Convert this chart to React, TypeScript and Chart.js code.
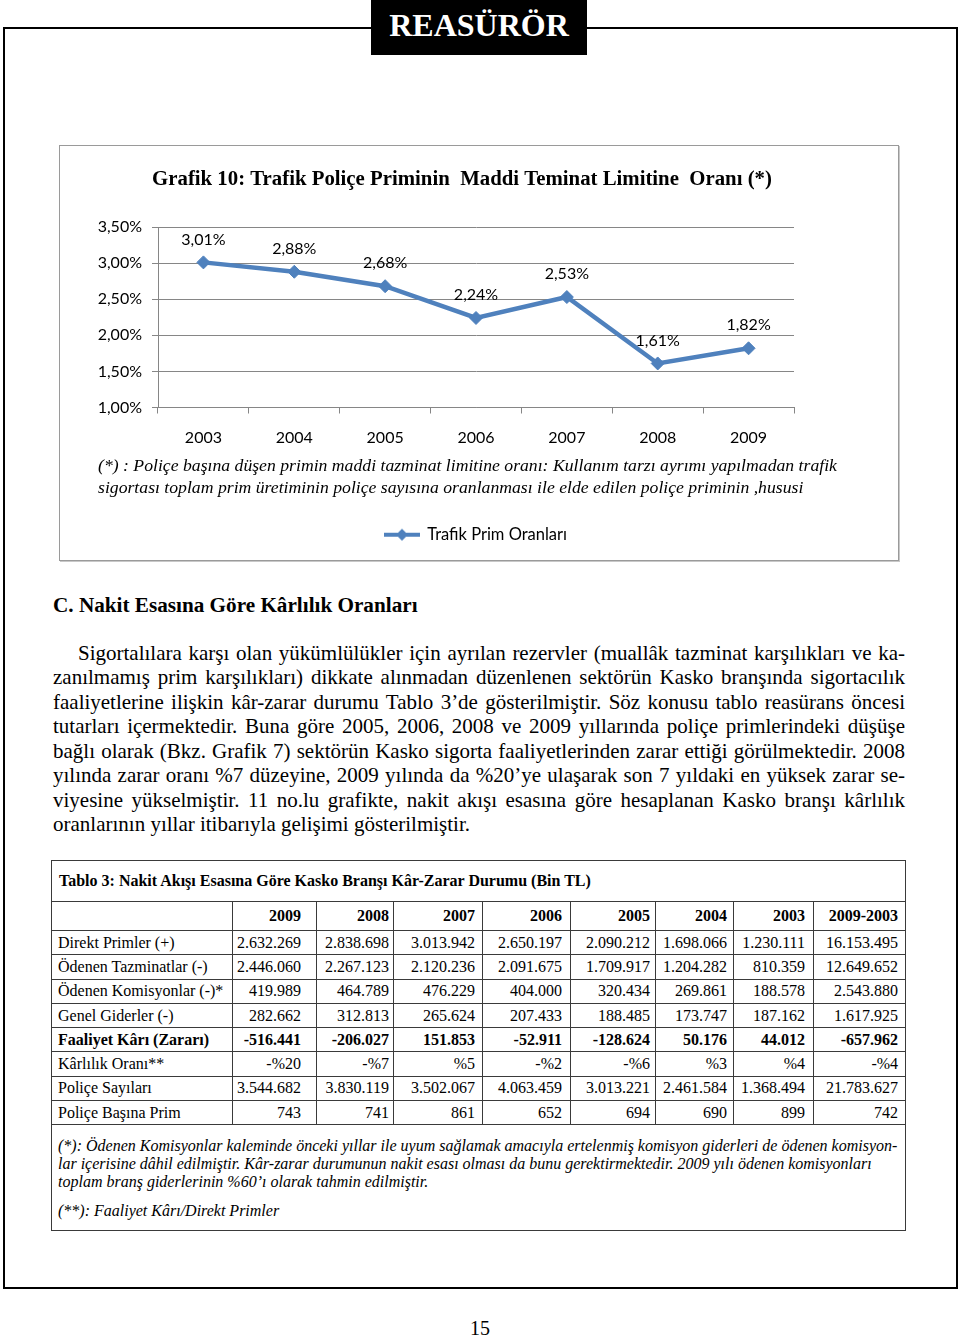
import React, { useEffect, useRef } from "react";
import { Chart, registerables } from "chart.js";

Chart.register(...registerables);

// ---------- Chart data ----------
const years = ["2003", "2004", "2005", "2006", "2007", "2008", "2009"];
const trafikPrimOranlari = [3.01, 2.88, 2.68, 2.24, 2.53, 1.61, 1.82];
const yMin = 1.0;
const yMax = 3.5;
const yStep = 0.5;
const seriesName = "Trafik Prim Oranları";
const chartTitle = "Grafik 10: Trafik Poliçe Priminin  Maddi Teminat Limitine  Oranı (*)";
const chartFootnote = [
  "(*) : Poliçe başına düşen primin maddi tazminat limitine oranı: Kullanım tarzı ayrımı yapılmadan trafik",
  "sigortası toplam prim üretiminin poliçe sayısına oranlanması ile elde edilen poliçe priminin ,hususi",
];

// ---------- Page text ----------
const headerText = "REASÜRÖR";
const sectionHeading = "C. Nakit Esasına Göre Kârlılık Oranları";
const paragraphLines = [
  "Sigortalılara karşı olan yükümlülükler için ayrılan rezervler (muallâk tazminat karşılıkları ve ka-",
  "zanılmamış prim karşılıkları) dikkate alınmadan düzenlenen sektörün Kasko branşında sigortacılık",
  "faaliyetlerine ilişkin kâr-zarar durumu Tablo 3’de gösterilmiştir.  Söz konusu tablo reasürans öncesi",
  "tutarları içermektedir. Buna göre 2005, 2006, 2008 ve 2009 yıllarında poliçe primlerindeki düşüşe",
  "bağlı olarak (Bkz. Grafik 7) sektörün Kasko sigorta faaliyetlerinden zarar ettiği görülmektedir. 2008",
  "yılında zarar oranı %7 düzeyine, 2009 yılında da %20’ye ulaşarak son 7 yıldaki en yüksek zarar se-",
  "viyesine yükselmiştir. 11 no.lu grafikte, nakit akışı esasına göre hesaplanan Kasko branşı kârlılık",
  "oranlarının yıllar itibarıyla gelişimi gösterilmiştir.",
];
const pageNumber = "15";

// ---------- Table data ----------
const tableTitle = "Tablo 3: Nakit Akışı Esasına Göre Kasko Branşı Kâr-Zarar Durumu (Bin TL)";
const tableYears = ["2009", "2008", "2007", "2006", "2005", "2004", "2003", "2009-2003"];
const direktPrimler = ["2.632.269", "2.838.698", "3.013.942", "2.650.197", "2.090.212", "1.698.066", "1.230.111", "16.153.495"];
const odenenTazminatlar = ["2.446.060", "2.267.123", "2.120.236", "2.091.675", "1.709.917", "1.204.282", "810.359", "12.649.652"];
const odenenKomisyonlar = ["419.989", "464.789", "476.229", "404.000", "320.434", "269.861", "188.578", "2.543.880"];
const genelGiderler = ["282.662", "312.813", "265.624", "207.433", "188.485", "173.747", "187.162", "1.617.925"];
const faaliyetKari = ["-516.441", "-206.027", "151.853", "-52.911", "-128.624", "50.176", "44.012", "-657.962"];
const karlilikOrani = ["-%20", "-%7", "%5", "-%2", "-%6", "%3", "%4", "-%4"];
const policeSayilari = ["3.544.682", "3.830.119", "3.502.067", "4.063.459", "3.013.221", "2.461.584", "1.368.494", "21.783.627"];
const policeBasinaPrim = ["743", "741", "861", "652", "694", "690", "899", "742"];
const tableRows: { label: string; values: string[]; bold?: boolean }[] = [
  { label: "Direkt Primler (+)", values: direktPrimler },
  { label: "Ödenen Tazminatlar (-)", values: odenenTazminatlar },
  { label: "Ödenen Komisyonlar (-)*", values: odenenKomisyonlar },
  { label: "Genel Giderler (-)", values: genelGiderler },
  { label: "Faaliyet Kârı (Zararı)", values: faaliyetKari, bold: true },
  { label: "Kârlılık Oranı**", values: karlilikOrani },
  { label: "Poliçe Sayıları", values: policeSayilari },
  { label: "Poliçe Başına Prim", values: policeBasinaPrim },
];
const tableNotes = [
  "(*):  Ödenen Komisyonlar kaleminde önceki yıllar ile uyum sağlamak amacıyla ertelenmiş komisyon giderleri de ödenen komisyon-",
  "lar içerisine dâhil edilmiştir. Kâr-zarar durumunun nakit esası olması da bunu gerektirmektedir. 2009 yılı ödenen komisyonları",
  "toplam branş giderlerinin %60’ı olarak tahmin edilmiştir.",
];
const tableNote2 = "(**):  Faaliyet Kârı/Direkt Primler";

// ---------- Styles ----------
const SERIF = '"Liberation Serif", "Times New Roman", serif';
const SANS = "Lato";
const LINE_BLUE = "#4F81BD";
const GRID_GRAY = "#868686";
const colWidths = [181, 84, 77, 89, 88, 85, 78, 80, 92];
const colPadRight = [0, 15, 4, 7, 8, 5, 6, 8, 7];

const fmtPct = (v: number) => v.toFixed(2).replace(".", ",") + "%";

function makeLegendMarker(): HTMLCanvasElement {
  const c = document.createElement("canvas");
  c.width = 36;
  c.height = 14;
  const g = c.getContext("2d")!;
  g.strokeStyle = LINE_BLUE;
  g.lineWidth = 4;
  g.beginPath();
  g.moveTo(0, 7);
  g.lineTo(36, 7);
  g.stroke();
  g.fillStyle = LINE_BLUE;
  g.beginPath();
  g.moveTo(18, 1);
  g.lineTo(24, 7);
  g.lineTo(18, 13);
  g.lineTo(12, 7);
  g.closePath();
  g.fill();
  return c;
}

const annotationPlugin = {
  id: "pageAnnotations",
  afterDatasetsDraw(chart: any) {
    const { ctx } = chart;
    const meta = chart.getDatasetMeta(0);
    const data = chart.data.datasets[0].data as number[];
    ctx.save();
    ctx.font = `16px ${SANS}`;
    ctx.fillStyle = "#000";
    ctx.textAlign = "center";
    ctx.textBaseline = "middle";
    meta.data.forEach((pt: any, i: number) => {
      ctx.fillText(fmtPct(data[i]), pt.x, pt.y - 23);
    });
    ctx.restore();
  },
  afterDraw(chart: any) {
    const { ctx, chartArea } = chart;
    ctx.save();
    // title
    ctx.font = `bold 20.8px ${SERIF}`;
    ctx.fillStyle = "#000";
    ctx.textAlign = "center";
    ctx.textBaseline = "middle";
    ctx.fillText(chartTitle, chart.width / 2 - 17, 34);
    // footnote
    ctx.font = `italic 17.7px ${SERIF}`;
    ctx.textAlign = "left";
    chartFootnote.forEach((line, i) => {
      ctx.fillText(line, 38, chartArea.bottom + 59 + i * 22);
    });
    ctx.restore();
  },
};

function TrafikChart() {
  const ref = useRef<HTMLCanvasElement | null>(null);
  useEffect(() => {
    let chart: Chart | null = null;
    let cancelled = false;
    const build = () => {
      if (cancelled || !ref.current) return;
      const font = { family: SANS, size: 16 };
      const marker = makeLegendMarker();
      chart = new Chart(ref.current, {
        type: "line",
        data: {
          labels: years,
          datasets: [
            {
              label: seriesName,
              data: trafikPrimOranlari,
              borderColor: LINE_BLUE,
              backgroundColor: LINE_BLUE,
              borderWidth: 4.5,
              pointStyle: "rectRot",
              pointRadius: 6.5,
              pointBackgroundColor: LINE_BLUE,
              pointBorderColor: LINE_BLUE,
              pointBorderWidth: 1,
              tension: 0,
            },
          ],
        },
        options: {
          animation: false,
          responsive: true,
          maintainAspectRatio: false,
          layout: { padding: { top: 81, left: 37, right: 104, bottom: 6 } },
          scales: {
            x: {
              offset: true,
              grid: { offset: true, drawOnChartArea: false, tickLength: 6, color: GRID_GRAY },
              border: { color: GRID_GRAY },
              ticks: { color: "#000", font, padding: 15, maxRotation: 0 },
              afterFit: (s: any) => {
                s.height = 109;
              },
            },
            y: {
              min: yMin,
              max: yMax,
              ticks: { stepSize: yStep, callback: (v: any) => fmtPct(Number(v)), color: "#000", font, padding: 10 },
              grid: { color: GRID_GRAY, tickLength: 6 },
              border: { color: GRID_GRAY },
              afterFit: (s: any) => {
                s.width = 61;
              },
            },
          },
          plugins: {
            tooltip: { enabled: false },
            title: { display: false },
            legend: {
              position: "bottom",
              fullSize: false,
              labels: {
                usePointStyle: true,
                pointStyleWidth: 34,
                color: "#000",
                font: { family: SANS, size: 16.5 },
                padding: 10,
                generateLabels: () => [
                  {
                    text: seriesName,
                    pointStyle: marker as any,
                    fillStyle: LINE_BLUE,
                    strokeStyle: LINE_BLUE,
                    fontColor: "#000",
                    lineWidth: 0,
                    hidden: false,
                    datasetIndex: 0,
                  } as any,
                ],
              },
            },
          },
        } as any,
        plugins: [annotationPlugin],
      });
    };
    const fontsApi = (document as any).fonts;
    if (fontsApi && fontsApi.load) {
      Promise.all([
        fontsApi.load(`16px ${SANS}`),
        fontsApi.load(`bold 20px "Liberation Serif"`),
        fontsApi.load(`italic 16px "Liberation Serif"`),
      ])
        .catch(() => null)
        .then(build);
    } else {
      build();
    }
    return () => {
      cancelled = true;
      if (chart) chart.destroy();
    };
  }, []);
  return (
    <div style={{ position: "absolute", left: 60, top: 146, width: 838, height: 413 }}>
      <canvas ref={ref} />
    </div>
  );
}

export default function App() {
  const cellBorder = "1px solid #3a3a3a";
  return (
    <div
      style={{
        position: "absolute",
        left: 0,
        top: 0,
        width: 960,
        height: 1337,
        background: "#fff",
        fontFamily: SERIF,
        color: "#000",
        overflow: "hidden",
      }}
    >
      {/* outer frame */}
      <div
        style={{
          position: "absolute",
          left: 3,
          top: 27,
          width: 955,
          height: 1262,
          border: "2px solid #000",
          boxSizing: "border-box",
        }}
      />
      {/* header tab */}
      <div
        style={{
          position: "absolute",
          left: 371,
          top: 0,
          width: 216,
          height: 55,
          background: "#000",
          color: "#fff",
          fontWeight: "bold",
          fontSize: 32,
          lineHeight: "50px",
          textAlign: "center",
        }}
      >
        {headerText}
      </div>

      {/* chart box */}
      <div
        style={{
          position: "absolute",
          left: 59,
          top: 145,
          width: 840,
          height: 416,
          border: "1px solid #9a9a9a",
          boxShadow: "1px 1px 0 #c8c8c8",
          boxSizing: "border-box",
        }}
      />
      <TrafikChart />

      {/* section heading */}
      <div style={{ position: "absolute", left: 53, top: 593, fontSize: 21.2, fontWeight: "bold", lineHeight: "24px", whiteSpace: "nowrap" }}>
        {sectionHeading}
      </div>

      {/* paragraph */}
      <div style={{ position: "absolute", left: 53, top: 641, width: 852, fontSize: 21, lineHeight: "24.43px" }}>
        {paragraphLines.map((line, i) => {
          const last = i === paragraphLines.length - 1;
          return (
            <div
              key={i}
              style={{
                textAlign: last ? "left" : "justify",
                textAlignLast: last ? "left" : "justify",
                paddingLeft: i === 0 ? 25 : 0,
                whiteSpace: "normal",
              }}
            >
              {line}
            </div>
          );
        })}
      </div>

      {/* table */}
      <table
        style={{
          position: "absolute",
          left: 51,
          top: 860,
          width: 855,
          borderCollapse: "collapse",
          tableLayout: "fixed",
          fontSize: 16,
          border: cellBorder,
        }}
      >
        <colgroup>
          {colWidths.map((w, i) => (
            <col key={i} style={{ width: w }} />
          ))}
        </colgroup>
        <tbody>
          <tr style={{ height: 41 }}>
            <td
              colSpan={9}
              style={{ border: cellBorder, padding: "0 0 0 7px", fontWeight: "bold", fontSize: 16, verticalAlign: "middle" }}
            >
              {tableTitle}
            </td>
          </tr>
          <tr style={{ height: 29 }}>
            <td style={{ border: cellBorder, padding: 0 }} />
            {tableYears.map((y, i) => (
              <td
                key={y}
                style={{
                  border: cellBorder,
                  padding: `0 ${colPadRight[i + 1]}px 0 0`,
                  textAlign: "right",
                  fontWeight: "bold",
                  whiteSpace: "nowrap",
                }}
              >
                {y}
              </td>
            ))}
          </tr>
          {tableRows.map((row) => (
            <tr key={row.label} style={{ height: 24.3 }}>
              <td
                style={{
                  border: cellBorder,
                  padding: "0 0 0 6px",
                  fontWeight: row.bold ? "bold" : "normal",
                  whiteSpace: "nowrap",
                }}
              >
                {row.label}
              </td>
              {row.values.map((v, i) => (
                <td
                  key={i}
                  style={{
                    border: cellBorder,
                    padding: `0 ${colPadRight[i + 1]}px 0 0`,
                    textAlign: "right",
                    fontWeight: row.bold ? "bold" : "normal",
                    whiteSpace: "nowrap",
                  }}
                >
                  {v}
                </td>
              ))}
            </tr>
          ))}
          <tr style={{ height: 106 }}>
            <td
              colSpan={9}
              style={{
                border: cellBorder,
                padding: "12px 0 0 6px",
                verticalAlign: "top",
                fontStyle: "italic",
                fontSize: 16,
                lineHeight: "18px",
              }}
            >
              {tableNotes.map((l, i) => (
                <div key={i} style={{ whiteSpace: "nowrap" }}>
                  {l}
                </div>
              ))}
              <div style={{ marginTop: 11, whiteSpace: "nowrap" }}>{tableNote2}</div>
            </td>
          </tr>
        </tbody>
      </table>

      {/* page number */}
      <div
        style={{
          position: "absolute",
          left: 0,
          width: 960,
          top: 1316,
          textAlign: "center",
          fontSize: 20,
          lineHeight: "24px",
        }}
      >
        {pageNumber}
      </div>
    </div>
  );
}
